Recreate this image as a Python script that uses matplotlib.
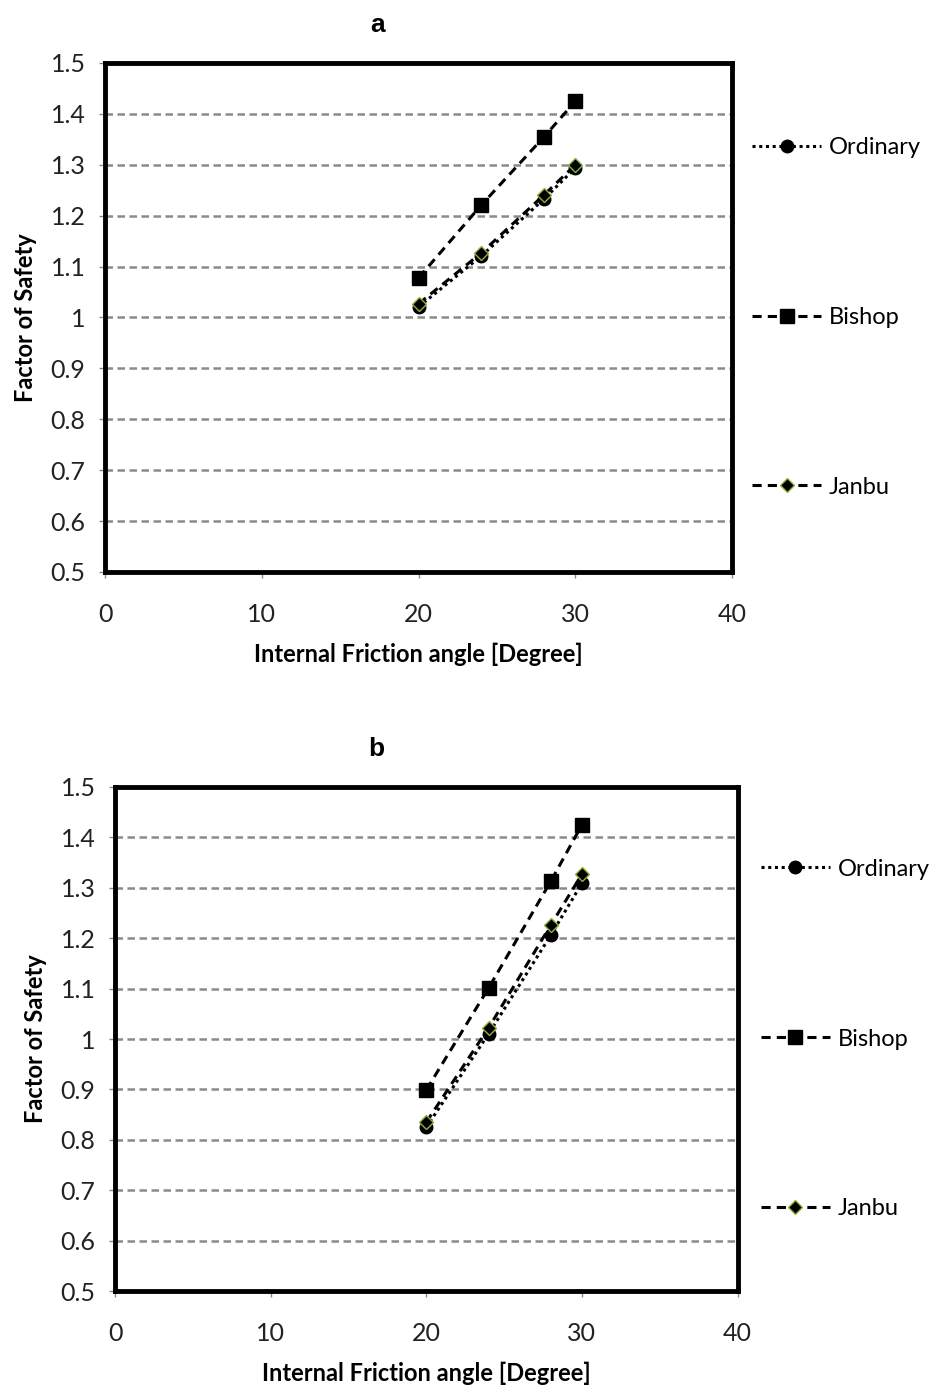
import numpy as np
import matplotlib.pyplot as plt

plt.rcParams['font.family'] = ['Lato', 'DejaVu Sans']

# --- data ---
angle = [20, 24, 28, 30]

ordinary_a = [1.021, 1.121, 1.233, 1.294]
bishop_a = [1.078, 1.221, 1.355, 1.425]
janbu_a = [1.027, 1.127, 1.241, 1.300]

ordinary_b = [0.825, 1.010, 1.206, 1.309]
bishop_b = [0.899, 1.101, 1.313, 1.425]
janbu_b = [0.835, 1.022, 1.226, 1.327]

panels = ['a', 'b']
series_names = ['Ordinary', 'Bishop', 'Janbu']
xticks = [0, 10, 20, 30, 40]
yticks = [0.5, 0.6, 0.7, 0.8, 0.9, 1.0, 1.1, 1.2, 1.3, 1.4, 1.5]
ytick_labels = ['0.5', '0.6', '0.7', '0.8', '0.9', '1', '1.1', '1.2', '1.3', '1.4', '1.5']


def draw_panel(ax, title, ordinary, bishop, janbu, leg_x, title_x):
    ax.plot(angle, ordinary, linestyle=(0, (1, 1.2)), color='black', lw=2.2,
            marker='o', ms=9, mfc='black', mec='black', label=series_names[0], zorder=3)
    ax.plot(angle, bishop, linestyle=(0, (3, 2)), color='black', lw=2.2,
            marker='s', ms=10, mfc='black', mec='black', label=series_names[1], zorder=3)
    ax.plot(angle, janbu, linestyle=(0, (3, 2)), color='black', lw=2.2,
            marker='D', ms=7, mfc='black', mec='#8db33a', mew=1.0, label=series_names[2], zorder=4)

    ax.set_xlim(0, 40)
    ax.set_ylim(0.5, 1.5)
    ax.set_xticks(xticks)
    ax.set_yticks(yticks)
    ax.set_yticklabels(ytick_labels)
    for y in yticks[1:-1]:
        ax.axhline(y, color='#8a8a8a', lw=1.8, linestyle=(0, (3, 1.8)), zorder=1)

    for s in ax.spines.values():
        s.set_linewidth(3.5)
        s.set_color('black')
    ax.tick_params(direction='out', length=4, width=1, color='#888888',
                   labelsize=18, colors='#222222')
    ax.tick_params(axis='y', pad=10)
    ax.tick_params(axis='x', pad=18)

    ax.set_title(title, fontsize=19, fontweight='bold', family='Liberation Sans',
                 pad=22, x=title_x)
    ax.set_xlabel('Internal Friction angle [Degree]', fontsize=17, fontweight='bold', labelpad=12)
    ax.set_ylabel('Factor of Safety', fontsize=17, fontweight='bold', labelpad=10)

    ax.legend(loc='center left', bbox_to_anchor=(leg_x, 0.5), frameon=False,
              fontsize=17, labelspacing=6.3, handlelength=2.9, handletextpad=0.35,
              borderaxespad=0, borderpad=0)


fig = plt.figure(figsize=(9.32, 13.87), dpi=100)
ax_a = fig.add_axes([0.1127, 0.5876, 0.673, 0.367])
ax_b = fig.add_axes([0.1234, 0.0692, 0.668, 0.3634])

draw_panel(ax_a, panels[0], ordinary_a, bishop_a, janbu_a, 1.032, 0.434)
draw_panel(ax_b, panels[1], ordinary_b, bishop_b, janbu_b, 1.038, 0.42)

fig.savefig('out.png', dpi=100)
